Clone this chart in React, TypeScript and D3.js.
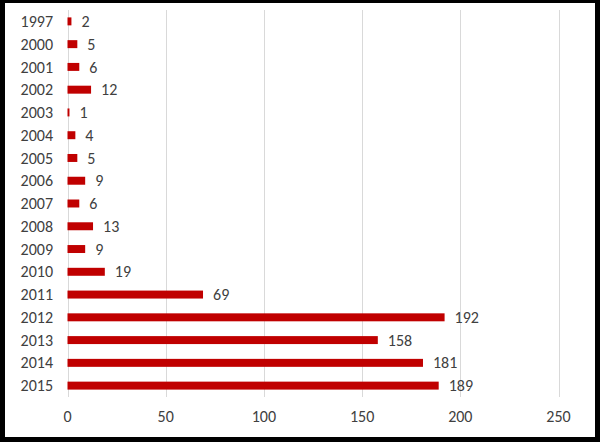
import React from "react";
import * as d3 from "d3";

const categories = ["1997","2000","2001","2002","2003","2004","2005","2006","2007","2008","2009","2010","2011","2012","2013","2014","2015"];
const values = [2,5,6,12,1,4,5,9,6,13,9,19,69,192,158,181,189];
const xTicks = [0,50,100,150,200,250];

const W = 600, H = 442;
const plot = { left: 67.5, right: 558.5, top: 10, bottom: 397 };

export default function App() {
  const x = d3.scaleLinear().domain([0, 250]).range([plot.left, plot.right]);
  const y = d3.scaleBand<string>().domain(categories).range([plot.top, plot.bottom]).paddingInner(0.65).paddingOuter(0.325);
  const font = "Carlito, Calibri, 'Open Sans', 'Liberation Sans', sans-serif";
  return (
    <svg width={W} height={H} style={{ position: "absolute", left: 0, top: 0, display: "block" }}>
      <rect x={0} y={0} width={W} height={H} fill="#000" />
      <rect x={5} y={3} width={590} height={434} fill="#fff" />
      {xTicks.map((t) => (
        <line key={t} x1={Math.round(x(t)) + 0.5} x2={Math.round(x(t)) + 0.5} y1={plot.top} y2={plot.bottom} stroke="#d9d9d9" strokeWidth={1} />
      ))}
      {categories.map((c, i) => (
        <g key={c}>
          <rect x={x(0)} y={y(c)!} width={x(values[i]) - x(0)} height={y.bandwidth()} fill="#c00000" />
          <text x={53} y={y(c)! + y.bandwidth() / 2} dy="0.35em" textAnchor="end" fontSize={16} fill="#404040" fontFamily={font}>{c}</text>
          <text x={x(values[i]) + 10} y={y(c)! + y.bandwidth() / 2} dy="0.35em" textAnchor="start" fontSize={16} fill="#404040" fontFamily={font}>{values[i]}</text>
        </g>
      ))}
      {xTicks.map((t) => (
        <text key={"l" + t} x={x(t)} y={416} dy="0.35em" textAnchor="middle" fontSize={16} fill="#404040" fontFamily={font}>{t}</text>
      ))}
    </svg>
  );
}
